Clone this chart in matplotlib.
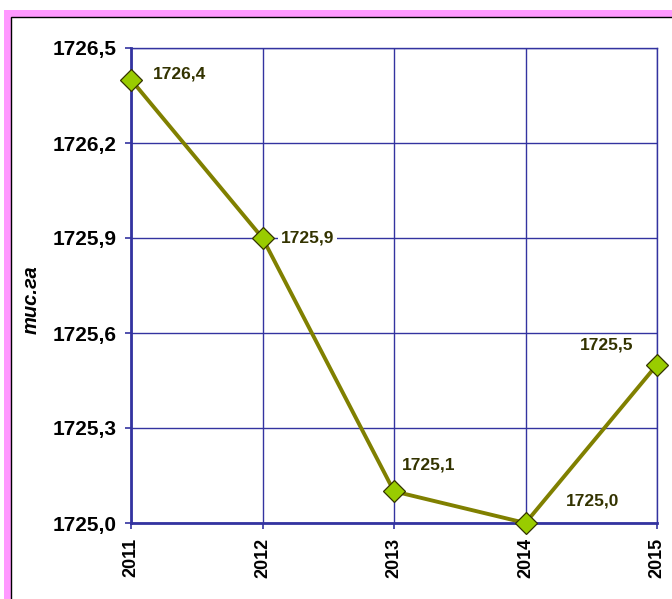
import matplotlib
matplotlib.use('Agg')
import matplotlib.pyplot as plt
from matplotlib.patches import Rectangle

# Дані
years = [2011, 2012, 2013, 2014, 2015]
values = [1726.4, 1725.9, 1725.1, 1725.0, 1725.5]
y_ticks = [1725.0, 1725.3, 1725.6, 1725.9, 1726.2, 1726.5]
# зсуви підписів (пункти) і вирівнювання
label_offsets = [(16, 4), (13, 0), (6, 19), (29, 16), (-17, 14)]
label_ha = ['left', 'left', 'left', 'left', 'right']

plt.rcParams['font.family'] = ['Liberation Sans', 'DejaVu Sans']

W, H = 672, 599
fig = plt.figure(figsize=(W / 100, H / 100), dpi=100)

# рамка (рожева смуга + чорна лінія)
bg = fig.add_axes([0, 0, 1, 1], zorder=0)
bg.set_xlim(0, W)
bg.set_ylim(H, 0)
bg.axis('off')
bg.add_patch(Rectangle((4, 10), W + 20, H + 20, facecolor='#ff99ff', edgecolor='none'))
bg.add_patch(Rectangle((10.5, 16.5), W + 20, H + 20, facecolor='white',
                       edgecolor='black', linewidth=1))

navy = '#3333a0'
ax = fig.add_axes([131 / W, 1 - 523 / H, (657 - 131) / W, (523 - 48) / H], zorder=1)
ax.set_facecolor('white')

ax.plot(years, values, color='#808000', linewidth=2.8, marker='D', markersize=11,
        markerfacecolor='#99cc00', markeredgecolor='#333300', markeredgewidth=0.9,
        clip_on=False, zorder=4)

for x, y, off, ha in zip(years, values, label_offsets, label_ha):
    ax.annotate(f'{y:.1f}'.replace('.', ','), (x, y), xytext=off,
                textcoords='offset points', ha=ha, va='center',
                fontsize=12.5, fontweight='bold', color='#333300', zorder=5,
                bbox=dict(boxstyle='square,pad=0.15', facecolor='white', edgecolor='none'))

ax.set_xlim(2011, 2015)
ax.set_ylim(1725.0, 1726.5)
ax.set_xticks(years)
ax.set_xticklabels([str(y) for y in years], rotation=90, fontsize=13, fontweight='bold')
ax.set_yticks(y_ticks)
ax.set_yticklabels([f'{t:.1f}'.replace('.', ',') for t in y_ticks],
                   fontsize=15, fontweight='bold')

ax.grid(True, color=navy, linewidth=1.0, zorder=1)
ax.set_axisbelow(True)
ax.tick_params(axis='both', direction='out', length=4.5, width=1.2, color=navy, pad=6)

for side in ['left', 'bottom']:
    ax.spines[side].set_color(navy)
    ax.spines[side].set_linewidth(2)
for side in ['top', 'right']:
    ax.spines[side].set_color(navy)
    ax.spines[side].set_linewidth(1.0)

fig.text(31 / W, 1 - 300 / H, 'тис.га', rotation=90, ha='center', va='center',
         fontsize=14.5, fontweight='bold', fontstyle='italic')

fig.savefig('out.png', dpi=100)
